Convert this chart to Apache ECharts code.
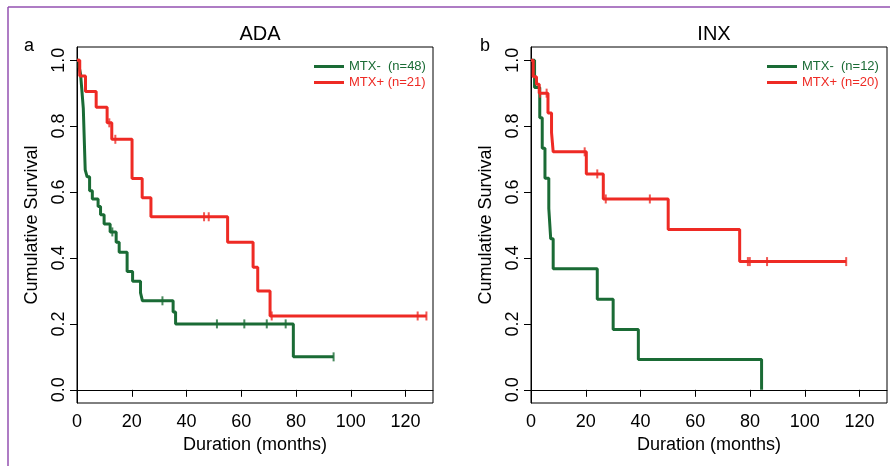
<!DOCTYPE html>
<html>
<head>
<meta charset="utf-8">
<script src="https://cdn.jsdelivr.net/npm/echarts@6/dist/echarts.min.js"></script>
<style>
html,body{margin:0;padding:0;background:#fff;}
#c{width:890px;height:466px;}
</style>
</head>
<body>
<div id="c"></div>
<script>
// ---- tick labels ----
const xTicks = [0, 20, 40, 60, 80, 100, 120];
const yTicks = [0, 0.2, 0.4, 0.6, 0.8, 1.0];

// ---- panel a: ADA ----
const adaMinusName = 'MTX-  (n=48)';
const adaMinusT = [0, 0.8, 1.3, 1.7, 2.3, 3.0, 3.7, 4.6, 5.6, 7.7, 8.6, 9.9, 12.1, 14.3, 15.4, 18.3, 20.3, 23.2, 23.9, 35.1, 36.0, 79.0, 93.7];
const adaMinusS = [1, 0.979, 0.958, 0.917, 0.854, 0.667, 0.646, 0.604, 0.579, 0.556, 0.531, 0.503, 0.479, 0.448, 0.417, 0.359, 0.329, 0.294, 0.270, 0.236, 0.200, 0.100, 0.100];
const adaMinusCens = [12.9, 31.2, 51.1, 61.1, 69.3, 76.2, 93.7];

const adaPlusName = 'MTX+ (n=21)';
const adaPlusT = [0, 1.0, 3.1, 7.0, 11.0, 12.7, 20.1, 23.8, 27.0, 55.0, 64.3, 66.0, 70.5, 127.6];
const adaPlusS = [1, 0.952, 0.905, 0.857, 0.810, 0.760, 0.641, 0.583, 0.525, 0.448, 0.372, 0.300, 0.224, 0.224];
const adaPlusCens = [11.8, 14.0, 46.4, 48.1, 71.1, 124.4, 127.6];

// ---- panel b: INX ----
const inxMinusName = 'MTX-  (n=12)';
const inxMinusT = [0, 1.3, 3.2, 4.1, 5.1, 6.5, 7.2, 8.1, 24.2, 30.0, 39.2, 84.2];
const inxMinusS = [1, 0.917, 0.825, 0.733, 0.642, 0.550, 0.458, 0.367, 0.275, 0.183, 0.092, 0];
const inxMinusCens = [];

const inxPlusName = 'MTX+ (n=20)';
const inxPlusT = [0, 0.8, 2.0, 3.0, 6.2, 7.5, 8.1, 20.2, 26.4, 50.1, 76.2, 115.1];
const inxPlusS = [1, 0.950, 0.927, 0.900, 0.840, 0.780, 0.722, 0.655, 0.579, 0.486, 0.389, 0.389];
const inxPlusCens = [3.3, 5.7, 19.6, 24.2, 27.3, 43.4, 79.2, 79.9, 86.2, 115.1];

const green = '#1a6b35';
const red = '#ee2a24';

function pairs(t, s) { return t.map((v, i) => [v, s[i]]); }
function survAt(t, s, x) { let v = s[0]; for (let i = 0; i < t.length; i++) { if (t[i] <= x) v = s[i]; } return v; }
function censPts(t, s, c) { return c.map(x => [x, survAt(t, s, x)]); }

const FONT = 'Liberation Sans, Arial, sans-serif';

function xAxisCfg(gi) {
  return {
    gridIndex: gi, type: 'value', min: 0, max: 130,
    name: 'Duration (months)', nameLocation: 'middle', nameGap: 32,
    nameTextStyle: { fontSize: 18, color: '#000', fontFamily: FONT },
    axisLine: { show: true, lineStyle: { color: '#000', width: 1 } },
    axisTick: { show: true, length: 7, lineStyle: { color: '#000' }, customValues: xTicks },
    axisLabel: { fontSize: 18, color: '#000', fontFamily: FONT, margin: 10, customValues: xTicks },
    splitLine: { show: false }
  };
}
function yAxisCfg(gi) {
  return {
    gridIndex: gi, type: 'value', min: -0.04, max: 1.04,
    name: 'Cumulative Survival', nameLocation: 'middle', nameGap: 36, nameRotate: 90,
    nameTextStyle: { fontSize: 18, color: '#000', fontFamily: FONT },
    axisLine: { show: true, lineStyle: { color: '#000', width: 1 } },
    axisTick: { show: true, length: 7, lineStyle: { color: '#000' }, customValues: yTicks },
    axisLabel: { fontSize: 18, color: '#000', fontFamily: FONT, margin: 9, rotate: 90,
      customValues: yTicks, formatter: v => Number(v).toFixed(1) },
    splitLine: { show: false }
  };
}
function lineSeries(name, gi, t, s, color) {
  return { name: name, type: 'line', xAxisIndex: gi, yAxisIndex: gi, step: 'end',
    data: pairs(t, s), showSymbol: false, symbol: 'none', color: color,
    lineStyle: { color: color, width: 3 }, silent: true, z: 3 };
}
function censSeries(name, gi, t, s, c, color) {
  return { name: name, type: 'scatter', xAxisIndex: gi, yAxisIndex: gi,
    data: censPts(t, s, c), symbol: 'rect', symbolSize: [2, 9],
    itemStyle: { color: color }, silent: true, z: 4 };
}
function legendCfg(left, names, colors) {
  return {
    left: left, top: 60, orient: 'vertical', padding: 0, itemGap: 3,
    itemWidth: 30, itemHeight: 3, icon: 'rect', selectedMode: false,
    textStyle: { fontSize: 13, fontFamily: FONT },
    data: names.map((n, i) => ({ name: n, textStyle: { color: colors[i] } }))
  };
}

const chart = echarts.init(document.getElementById('c'), null, { renderer: 'canvas' });
chart.setOption({
  animation: false,
  backgroundColor: '#fff',
  title: [
    { text: 'ADA', left: 255, top: 19, textAlign: 'center',
      textStyle: { fontSize: 20, fontWeight: 'normal', color: '#000', fontFamily: FONT } },
    { text: 'INX', left: 709, top: 19, textAlign: 'center',
      textStyle: { fontSize: 20, fontWeight: 'normal', color: '#000', fontFamily: FONT } }
  ],
  grid: [
    { left: 77, top: 47, width: 356, height: 356, show: true, borderColor: '#000', borderWidth: 1, backgroundColor: 'transparent' },
    { left: 531, top: 47, width: 356, height: 356, show: true, borderColor: '#000', borderWidth: 1, backgroundColor: 'transparent' }
  ],
  xAxis: [xAxisCfg(0), xAxisCfg(1)],
  yAxis: [yAxisCfg(0), yAxisCfg(1)],
  legend: [
    legendCfg(314, [adaMinusName, adaPlusName], [green, red]),
    legendCfg(767, [inxMinusName, inxPlusName], [green, red])
  ],
  series: [
    lineSeries(adaMinusName, 0, adaMinusT, adaMinusS, green),
    lineSeries(adaPlusName, 0, adaPlusT, adaPlusS, red),
    censSeries('adaMinusCens', 0, adaMinusT, adaMinusS, adaMinusCens, green),
    censSeries('adaPlusCens', 0, adaPlusT, adaPlusS, adaPlusCens, red),
    lineSeries(inxMinusName, 1, inxMinusT, inxMinusS, green),
    lineSeries(inxPlusName, 1, inxPlusT, inxPlusS, red),
    censSeries('inxMinusCens', 1, inxMinusT, inxMinusS, inxMinusCens, green),
    censSeries('inxPlusCens', 1, inxPlusT, inxPlusS, inxPlusCens, red)
  ],
  graphic: [
    { type: 'line', shape: { x1: 8, y1: 7, x2: 890, y2: 7 }, style: { stroke: '#9350b0', lineWidth: 1.5 }, silent: true },
    { type: 'line', shape: { x1: 8, y1: 7, x2: 8, y2: 466 }, style: { stroke: '#9350b0', lineWidth: 1.5 }, silent: true },
    { type: 'text', left: 24, top: 37, style: { text: 'a', fontSize: 18, fill: '#000', font: '18px ' + FONT }, silent: true },
    { type: 'text', left: 480, top: 37, style: { text: 'b', fontSize: 18, fill: '#000', font: '18px ' + FONT }, silent: true }
  ]
});
</script>
</body>
</html>
